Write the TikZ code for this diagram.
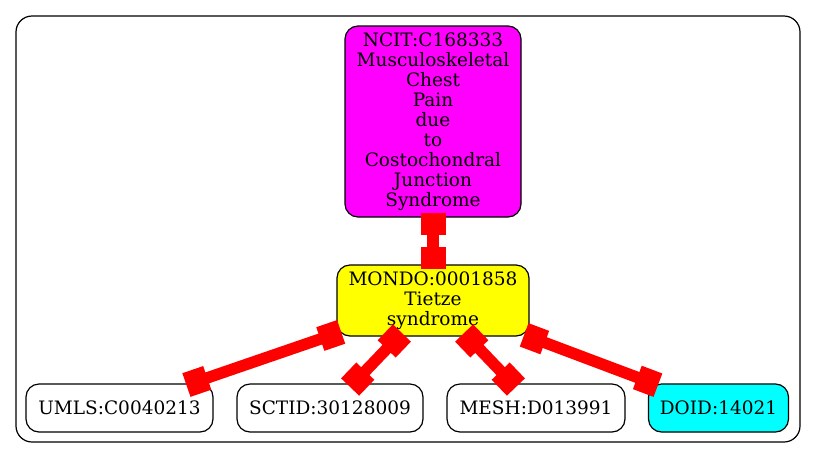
\documentclass[tikz,border=0pt]{standalone}
\usepackage{fontspec}
\setmainfont{DejaVu Serif}
\usetikzlibrary{arrows.meta}
\definecolor{cMag}{RGB}{255,0,255}
\definecolor{cYel}{RGB}{255,255,0}
\definecolor{cCya}{RGB}{0,255,255}
\definecolor{cRed}{RGB}{255,0,0}
\begin{document}
\begin{tikzpicture}[x=1pt,y=-1pt,
  gnode/.style={draw=black, line width=1.2pt, rounded corners=13pt, inner sep=0pt, align=center, font=\fontsize{18.5}{20}\selectfont, anchor=center},
  boxtip/.tip={Rectangle[length=22pt,width=25pt]},
  link/.style={draw=cRed, line width=11.5pt, boxtip-boxtip, shorten <=-5pt, shorten >=-5pt}]
\useasboundingbox (0,0) rectangle (816,459);
\draw[line width=1.2pt, rounded corners=16pt] (16,16) rectangle (800,442);
\node[gnode, fill=cMag, minimum width=176pt, minimum height=191pt] (ncit) at (433,121.5) {NCIT:C168333\\Musculoskeletal\\Chest\\Pain\\due\\to\\Costochondral\\Junction\\Syndrome};
\node[gnode, fill=cYel, minimum width=192pt, minimum height=71pt] (mondo) at (433,300.5) {MONDO:0001858\\Tietze\\syndrome};
\node[gnode, minimum width=187pt, minimum height=48pt] (umls) at (119.5,408) {UMLS:C0040213};
\node[gnode, minimum width=186pt, minimum height=48pt] (sctid) at (330,408) {SCTID:30128009};
\node[gnode, minimum width=178pt, minimum height=48pt] (mesh) at (536,408) {MESH:D013991};
\node[gnode, fill=cCya, minimum width=140pt, minimum height=48pt] (doid) at (718.5,408) {DOID:14021};
\draw[link] (ncit) -- (mondo);
\draw[link] (mondo) -- (umls);
\draw[link] (mondo) -- (sctid);
\draw[link] (mondo) -- (mesh);
\draw[link] (mondo) -- (doid);
\end{tikzpicture}
\end{document}
